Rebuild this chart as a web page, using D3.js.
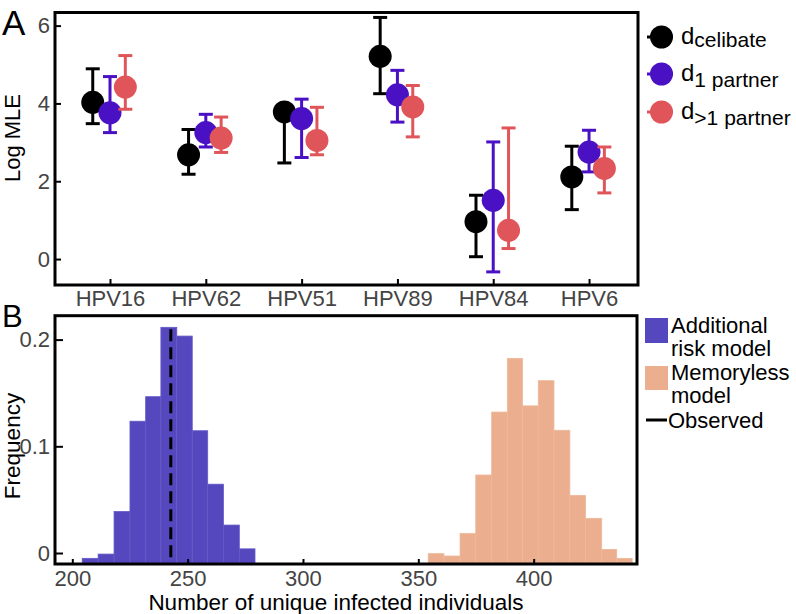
<!DOCTYPE html>
<html><head><meta charset="utf-8">
<script src="https://cdn.jsdelivr.net/npm/d3@7"></script>
<style>body{margin:0;background:#fff}svg{display:block}text{font-family:"Liberation Sans",Arial,Helvetica,sans-serif}</style>
</head><body><svg id="c" width="796" height="614"></svg>
<script>
// ---------- Panel A data ----------
const categories = ["HPV16","HPV62","HPV51","HPV89","HPV84","HPV6"];
const celibate      = [4.03, 2.68, 3.78, 5.21, 0.96, 2.11];
const celibateLow   = [3.48, 2.18, 2.47, 4.25, 0.06, 1.27];
const celibateHigh  = [4.89, 3.33, 3.97, 6.21, 1.64, 2.90];
const onePartner     = [3.76, 3.25, 3.61, 4.22, 1.51, 2.75];
const onePartnerLow  = [3.25, 2.88, 2.61, 3.52, -0.33, 2.24];
const onePartnerHigh = [4.69, 3.72, 4.11, 4.85, 3.01, 3.31];
const multiPartner     = [4.42, 3.11, 3.05, 3.91, 0.74, 2.33];
const multiPartnerLow  = [3.85, 2.74, 2.68, 3.14, 0.27, 1.70];
const multiPartnerHigh = [5.23, 3.65, 3.90, 4.46, 3.37, 2.88];
const yTicksA = [0, 2, 4, 6];
const seriesNames = [["d","celibate"],["d","1 partner"],["d",">1 partner"]];
const seriesColors = ["#000000", "#4a10c4", "#e0555a"];

// ---------- Panel B data ----------
const riskBinStarts = [204.3, 211.2, 218.1, 225.0, 231.8, 238.4, 245.3, 252.0, 258.7, 265.5, 272.4];
const riskBinEnd = 279.2;
const riskFreq = [0.0044, 0.0084, 0.0483, 0.1329, 0.1559, 0.2209, 0.2127, 0.1240, 0.0739, 0.0356, 0.0133];
const memBinStarts = [334.1, 340.9, 347.6, 354.3, 361.1, 368.1, 374.9, 381.8, 388.6, 395.2, 402.0, 408.8, 415.7, 422.5, 429.5, 436.0];
const memBinEnd = 442.7;
const memFreq = [0, 0, 0, 0.0088, 0.0066, 0.0278, 0.0825, 0.1415, 0.1918, 0.1473, 0.1709, 0.1244, 0.0634, 0.0419, 0.0128, 0.0044];
const observed = 242.7;
const observedTop = 0.219;
const xTicksB = [200, 250, 300, 350, 400];
const yTicksB = [0, 0.1, 0.2];
const legendB = ["Additional", "risk model", "Memoryless", "model", "Observed"];

const svg = d3.select("#c");
const FONT = 22;

// ================= Panel A =================
const A = {l:55, r:638, t:12.5, b:285};
const xA = d3.scaleLinear().domain([0.426, 6.511]).range([A.l, A.r]);
const yA = d3.scaleLinear().domain([-0.667, 6.337]).range([A.b, A.t]);
const offsets = [-0.18, 0, 0.16];

const gA = svg.append("g");
gA.append("g").attr("transform", `translate(0,${A.b})`)
  .call(d3.axisBottom(xA).tickValues(d3.range(1, categories.length + 1))
    .tickFormat(i => categories[i-1]).tickSize(-6).tickPadding(5))
  .call(g => g.select(".domain").remove());
gA.append("g").attr("transform", `translate(${A.l},0)`)
  .call(d3.axisLeft(yA).tickValues(yTicksA).tickFormat(d3.format("d")).tickSize(-6).tickPadding(5))
  .call(g => g.select(".domain").remove());

const seriesA = [
  [celibate, celibateLow, celibateHigh],
  [onePartner, onePartnerLow, onePartnerHigh],
  [multiPartner, multiPartnerLow, multiPartnerHigh]
];
seriesA.forEach((s, si) => {
  const g = gA.append("g");
  const col = seriesColors[si];
  categories.forEach((c, i) => {
    const cx = xA(i + 1 + offsets[si]);
    g.append("line").attr("x1", cx).attr("x2", cx).attr("y1", yA(s[1][i])).attr("y2", yA(s[2][i]))
      .attr("stroke", col).attr("stroke-width", 3);
    [s[1][i], s[2][i]].forEach(v => {
      g.append("line").attr("x1", cx - 7).attr("x2", cx + 7).attr("y1", yA(v)).attr("y2", yA(v))
        .attr("stroke", col).attr("stroke-width", 3);
    });
    g.append("circle").attr("cx", cx).attr("cy", yA(s[0][i])).attr("r", 11.5).attr("fill", col);
  });
});
gA.append("rect").attr("x", A.l).attr("y", A.t).attr("width", A.r - A.l).attr("height", A.b - A.t)
  .attr("fill", "none").attr("stroke", "#000").attr("stroke-width", 3);

gA.append("text").attr("transform", `translate(20,138) rotate(-90)`).attr("text-anchor", "middle")
  .attr("font-size", 22).attr("fill", "#000").text("Log MLE");
svg.append("text").attr("x", 2).attr("y", 35).attr("font-size", 35).attr("fill", "#000").text("A");

// legend A
const legY = [37, 74, 112];
seriesNames.forEach((n, i) => {
  const col = seriesColors[i];
  svg.append("line").attr("x1", 647).attr("x2", 673).attr("y1", legY[i]).attr("y2", legY[i])
    .attr("stroke", col).attr("stroke-width", 3);
  svg.append("circle").attr("cx", 661.5).attr("cy", legY[i]).attr("r", 11.5).attr("fill", col);
  const t = svg.append("text").attr("x", 681).attr("y", legY[i] + 7).attr("font-size", 24).attr("fill", "#000");
  t.append("tspan").text(n[0]);
  t.append("tspan").attr("font-size", 21).attr("dy", i === 0 ? 3 : 6).text(n[1]);
});

// ================= Panel B =================
const B = {l:55, r:637, t:315.7, b:564};
const xB = d3.scaleLinear().domain([192.5, 444.8]).range([B.l, B.r]);
const yB = d3.scaleLinear().domain([-0.0103, 0.2224]).range([B.b, B.t]);
const barBase = -0.0094;

const gB = svg.append("g");
function drawHist(starts, end, freq, color, stroke) {
  gB.append("g").selectAll("rect").data(freq).join("rect")
    .attr("x", (d, i) => xB(starts[i]))
    .attr("width", (d, i) => xB(i + 1 < starts.length ? starts[i+1] : end) - xB(starts[i]))
    .attr("y", d => yB(barBase + d))
    .attr("height", d => yB(barBase) - yB(barBase + d))
    .attr("fill", color).attr("stroke", stroke).attr("stroke-width", 0.8);
}
drawHist(riskBinStarts, riskBinEnd, riskFreq, "#5548be", "#6459c6");
drawHist(memBinStarts, memBinEnd, memFreq, "#ebae8e", "#efb899");

gB.append("line").attr("x1", xB(observed)).attr("x2", xB(observed))
  .attr("y1", yB(barBase + observedTop)).attr("y2", B.b)
  .attr("stroke", "#000").attr("stroke-width", 3).attr("stroke-dasharray", "12,6");

gB.append("g").attr("transform", `translate(0,${B.b})`)
  .call(d3.axisBottom(xB).tickValues(xTicksB).tickFormat(d3.format("d")).tickSize(-5).tickPadding(6))
  .call(g => g.select(".domain").remove());
gB.append("g").attr("transform", `translate(${B.l},0)`)
  .call(d3.axisLeft(yB).tickValues(yTicksB).tickFormat(d => d === 0 ? "0" : d3.format(".1f")(d)).tickSize(-8).tickPadding(5))
  .call(g => g.select(".domain").remove());

gB.append("rect").attr("x", B.l).attr("y", B.t).attr("width", B.r - B.l).attr("height", B.b - B.t)
  .attr("fill", "none").attr("stroke", "#000").attr("stroke-width", 3);

svg.selectAll(".tick text").attr("font-size", FONT).attr("fill", "#444")
  .attr("font-family", '"Liberation Sans",Arial,sans-serif');
svg.selectAll(".tick line").attr("stroke", "#000").attr("stroke-width", 2);

gB.append("text").attr("transform", `translate(20,446) rotate(-90)`).attr("text-anchor", "middle")
  .attr("font-size", 22.5).attr("fill", "#000").text("Frequency");
gB.append("text").attr("x", 336).attr("y", 610).attr("text-anchor", "middle")
  .attr("font-size", 22.5).attr("fill", "#000").text("Number of unique infected individuals");
svg.append("text").attr("x", 2).attr("y", 327).attr("font-size", 31).attr("fill", "#000").text("B");

// legend B
svg.append("rect").attr("x", 645).attr("y", 318).attr("width", 23).attr("height", 25).attr("fill", "#5548be");
svg.append("rect").attr("x", 645).attr("y", 366).attr("width", 23).attr("height", 24).attr("fill", "#ebae8e");
svg.append("line").attr("x1", 646).attr("x2", 667).attr("y1", 420).attr("y2", 420).attr("stroke", "#000").attr("stroke-width", 3);
const legBY = [333, 356, 380, 403, 428];
const legBX = [671, 671, 671, 671, 668];
legendB.forEach((t, i) => {
  svg.append("text").attr("x", legBX[i]).attr("y", legBY[i]).attr("font-size", 22).attr("fill", "#000").text(t);
});
</script></body></html>
